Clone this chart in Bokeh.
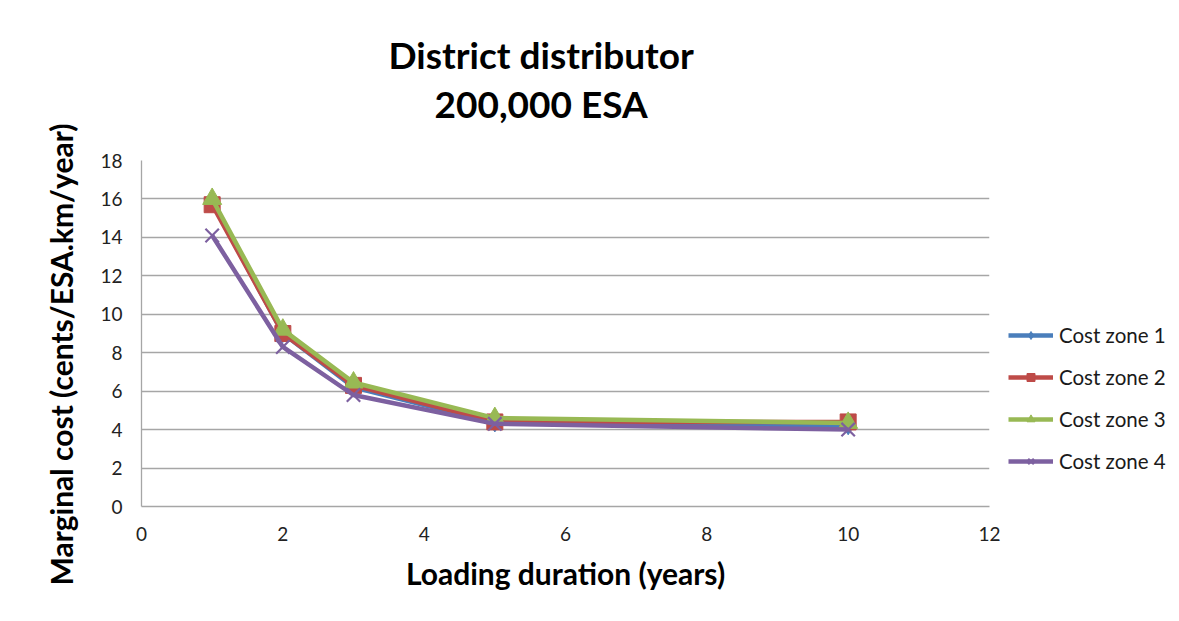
from bokeh.plotting import figure
from bokeh.models import Legend, LegendItem, Range1d, FixedTicker, Title, LinearAxis
from bokeh.embed import file_html
from bokeh.resources import INLINE

# ---- data ----
years = [1, 2, 3, 5, 10]
zone1 = [15.8, 9.0, 6.2, 4.35, 4.2]
zone2 = [15.7, 9.0, 6.3, 4.4, 4.4]
zone3 = [16.0, 9.2, 6.45, 4.6, 4.35]
zone4 = [14.1, 8.3, 5.8, 4.3, 4.0]
series_names = ["Cost zone 1", "Cost zone 2", "Cost zone 3", "Cost zone 4"]
x_ticks = [0, 2, 4, 6, 8, 10, 12]
y_ticks = [0, 2, 4, 6, 8, 10, 12, 14, 16, 18]
title_lines = ["District distributor", "200,000 ESA"]
x_title = "Loading duration (years)"
y_title = "Marginal cost (cents/ESA.km/year)"

FONT = "Lato"

p = figure(
    frame_width=848, frame_height=346,
    min_border_left=141, min_border_right=190, min_border_top=160, min_border_bottom=115,
    x_range=Range1d(0, 12), y_range=Range1d(0, 18),
    output_backend="svg", toolbar_location=None,
)
p.outline_line_color = None
p.background_fill_color = "white"
p.border_fill_color = "white"

# axes
p.xaxis.ticker = FixedTicker(ticks=x_ticks)
p.yaxis.ticker = FixedTicker(ticks=y_ticks)
for ax in (p.xaxis[0], p.yaxis[0]):
    ax.major_tick_line_color = None
    ax.minor_tick_line_color = None
    ax.axis_line_color = "#a6a6a6"
    ax.axis_line_width = 1.3
    ax.major_label_text_font = FONT
    ax.major_label_text_font_size = "19px"
    ax.major_label_text_color = "#222222"
    ax.axis_label_text_font = FONT
    ax.axis_label_text_font_style = "bold"
    ax.axis_label_text_font_size = "30px"
    ax.axis_label_text_color = "black"
p.yaxis.major_label_standoff = 13
p.xaxis.major_label_standoff = 14
p.xaxis.axis_label = x_title
p.xaxis.axis_label_standoff = 11

# y-axis title as a side title so it can be shifted along the axis
ytitle = Title(text=y_title, align="left", offset=-79, standoff=38,
               text_font=FONT, text_font_style="bold", text_font_size="30px",
               text_color="black")
p.add_layout(ytitle, "left")

p.xgrid.grid_line_color = None
p.ygrid.ticker = FixedTicker(ticks=y_ticks)
p.ygrid.grid_line_color = "#a6a6a6"
p.ygrid.grid_line_width = 1.3

colors = ["#4a7ebb", "#be4b48", "#98b954", "#7d60a0"]
markers = ["diamond", "square", "triangle", "x"]
sizes = [18, 16, 19, 19]
data = [zone1, zone2, zone3, zone4]

items = []
for name, ys, c, m, s in zip(series_names, data, colors, markers, sizes):
    r1 = p.line(years, ys, line_color=c, line_width=4.5)
    if m == "x":
        r2 = p.scatter(years, ys, marker=m, size=s, line_color=c, line_width=2.2)
    else:
        r2 = p.scatter(years, ys, marker=m, size=s, fill_color=c, line_color=c)
    items.append(LegendItem(label=name, renderers=[r1, r2]))

legend = Legend(
    items=items, location=(19, 33),
    label_text_font=FONT, label_text_font_size="20.5px", label_text_color="#1a1a1a",
    glyph_width=45, glyph_height=20, label_height=20, spacing=18,
    label_standoff=6, padding=0, margin=0,
    border_line_color=None, background_fill_alpha=0,
)
p.add_layout(legend, "right")

# blank spacers between the frame and the title (white on white)
spacer_axis = LinearAxis(ticker=FixedTicker(ticks=[]), axis_line_color=None,
                         major_tick_line_color="white", minor_tick_line_color=None,
                         major_tick_out=35, minor_tick_out=0, major_tick_in=0, minor_tick_in=0,
                         major_label_text_font_size="0px", major_label_standoff=0)
p.add_layout(spacer_axis, "above")
spacer_title = Title(text=" ", align="left", standoff=21, text_font=FONT,
                     text_font_size="10px", text_color="white")
p.add_layout(spacer_title, "above")

# title: two centred lines
t2 = Title(text=title_lines[1], align="left", offset=293, standoff=0,
           text_font=FONT, text_font_style="bold", text_font_size="37px", text_color="black")
t1 = Title(text=title_lines[0], align="left", offset=247, standoff=3,
           text_font=FONT, text_font_style="bold", text_font_size="37px", text_color="black")
p.add_layout(t2, "above")
p.add_layout(t1, "above")

open("out.html", "w").write(file_html(p, INLINE))
